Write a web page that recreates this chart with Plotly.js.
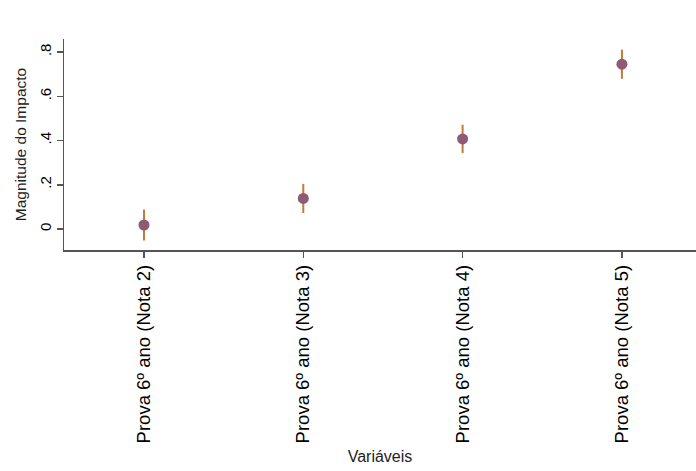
<!DOCTYPE html>
<html>
<head>
<meta charset="utf-8">
<script src="https://cdn.plot.ly/plotly-3.0.1.min.js"></script>
<style>html,body{margin:0;padding:0;background:#fff;}#chart{width:696px;height:471px;}</style>
</head>
<body>
<div id="chart"></div>
<script>
var categories = ["Prova 6º ano (Nota 2)", "Prova 6º ano (Nota 3)", "Prova 6º ano (Nota 4)", "Prova 6º ano (Nota 5)"];
var positions = [0, 1, 2, 3];
var impact = [0.018, 0.138, 0.407, 0.745];
var ciHalf = [0.07, 0.066, 0.064, 0.066];
var yTickVals = [0, 0.2, 0.4, 0.6, 0.8];
var yTickText = ["0", ".2", ".4", ".6", ".8"];

var trace = {
  x: positions,
  y: impact,
  type: "scatter",
  mode: "markers",
  marker: {color: "#8e5a76", size: 11, line: {width: 0}},
  error_y: {type: "data", array: ciHalf, visible: true, color: "#c47a38", thickness: 2, width: 0},
  hoverinfo: "skip"
};

var layout = {
  width: 696, height: 471,
  margin: {l: 64, r: 0, t: 39, b: 221},
  paper_bgcolor: "#fff", plot_bgcolor: "#fff",
  showlegend: false,
  font: {family: "Liberation Sans, Arial, sans-serif", color: "#000"},
  xaxis: {
    range: [-0.502, 3.465],
    tickvals: positions, ticktext: categories,
    tickangle: -90,
    ticks: "outside", ticklen: 6, tickwidth: 1.5, tickcolor: "#555",
    showline: true, linecolor: "#555", linewidth: 1.5,
    showgrid: false, zeroline: false,
    tickfont: {size: 18.5, color: "#000"},
    title: {text: "Variáveis", font: {size: 16, color: "#222"}, standoff: 8}
  },
  yaxis: {
    range: [-0.095, 0.859],
    tickvals: yTickVals, ticktext: yTickText,
    tickangle: -90,
    ticks: "outside", ticklen: 6, tickwidth: 1.5, tickcolor: "#555",
    showline: true, linecolor: "#555", linewidth: 1.5,
    showgrid: false, zeroline: false,
    tickfont: {size: 15, color: "#000"},
    title: {text: "Magnitude do Impacto", font: {size: 15.5, color: "#222"}, standoff: 6}
  }
};

Plotly.newPlot("chart", [trace], layout, {displayModeBar: false, staticPlot: true});
</script>
</body>
</html>
